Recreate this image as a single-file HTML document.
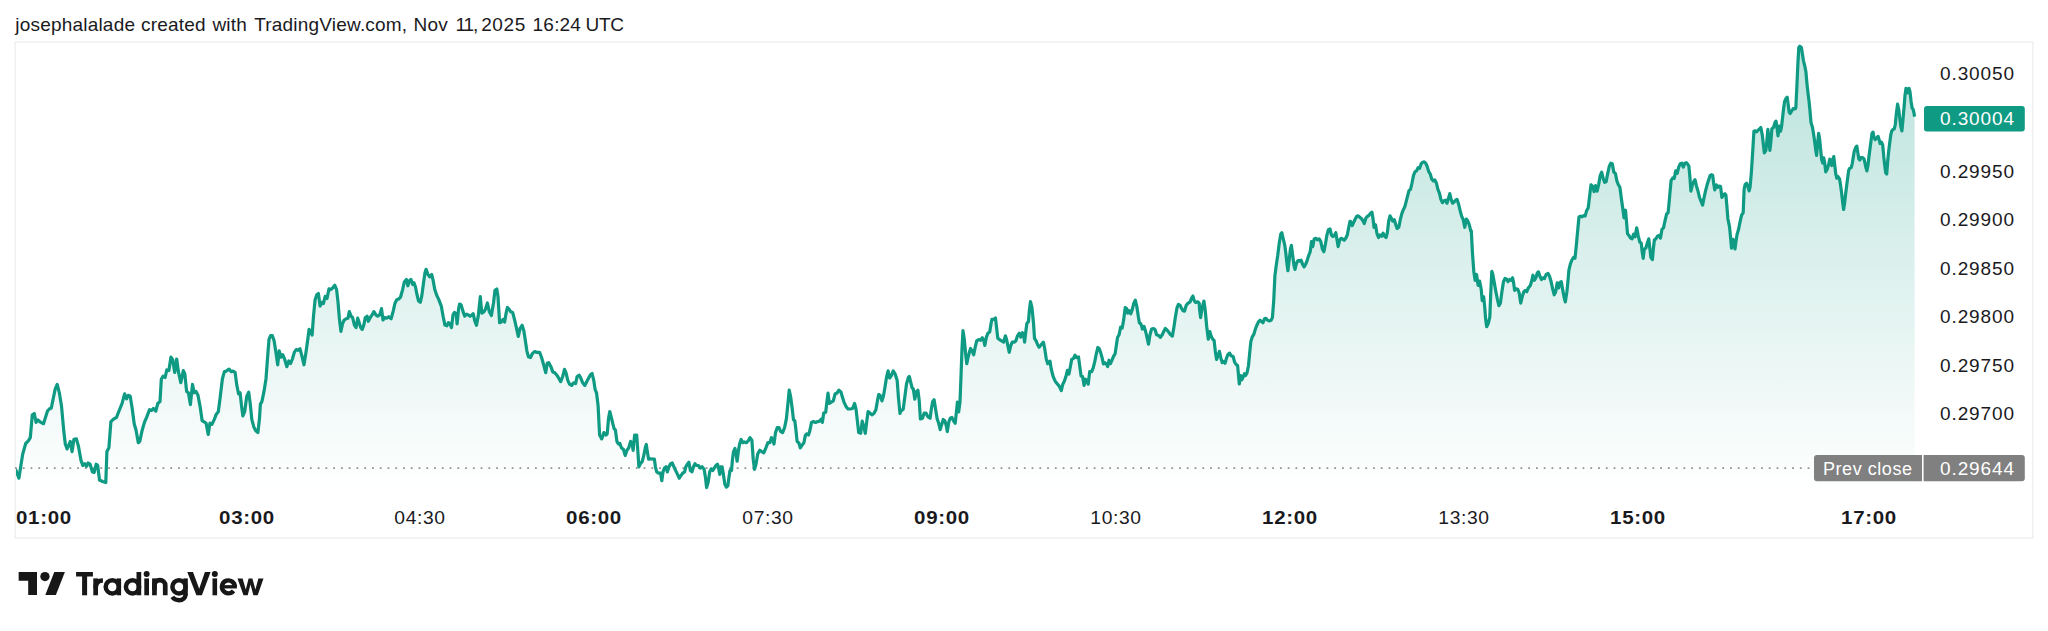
<!DOCTYPE html>
<html>
<head>
<meta charset="utf-8">
<title>Chart</title>
<style>
html,body{margin:0;padding:0;background:#fff;}
body{width:2048px;height:631px;position:relative;overflow:hidden;font-family:"Liberation Sans",sans-serif;color:#1a1a1e;}
#hdr{position:absolute;left:0;top:14px;height:22px;font-size:19px;line-height:22px;white-space:nowrap;color:#1a1a1e;letter-spacing:0.2px;}
#hdr span{position:absolute;top:0;white-space:nowrap;}
#chart{position:absolute;left:0;top:0;width:2048px;height:631px;}
.pl{position:absolute;left:1940px;font-size:19px;line-height:22px;white-space:nowrap;letter-spacing:0.9px;color:#1a1a1e;}
.tl{position:absolute;top:507px;font-size:18px;line-height:22px;white-space:nowrap;width:100px;margin-left:-50px;text-align:center;letter-spacing:0.6px;color:#1a1a1e;transform:scaleX(1.07);transform-origin:50% 50%;}
.tl.b{font-weight:bold;transform:scaleX(1.14);}
.bt{position:absolute;color:#fff;white-space:nowrap;line-height:22px;}
</style>
</head>
<body>
<div id="hdr"><span style="left:15.3px">josephalalade</span><span style="left:141px">created</span><span style="left:212.4px">with</span><span style="left:254.2px">TradingView.com,</span><span style="left:413.5px">Nov</span><span style="left:455.4px;letter-spacing:-1.1px">11,</span><span style="left:481.2px;letter-spacing:0.6px">2025</span><span style="left:532.6px">16:24</span><span style="left:585.6px;letter-spacing:-0.3px">UTC</span></div>
<svg id="chart" width="2048" height="631" viewBox="0 0 2048 631">
<defs>
<linearGradient id="g" x1="0" y1="45" x2="0" y2="492" gradientUnits="userSpaceOnUse">
<stop offset="0" stop-color="#089981" stop-opacity="0.28"/>
<stop offset="1" stop-color="#089981" stop-opacity="0"/>
</linearGradient>
<clipPath id="pane"><rect x="15.9" y="42" width="2016" height="496"/></clipPath>
</defs>
<rect x="15.2" y="41.9" width="2017.6" height="496.1" fill="none" stroke="#f0f0f0" stroke-width="1.6"/>
<!--AREA--><path d="M15.6 469.3 L18.9 478.2 L22.7 454.1 L25.7 443.5 L28.3 440.9 L30.3 437.6 L32.3 414.8 L34.3 413.5 L36.1 422.4 L37.9 419.9 L40.9 422.4 L43.5 423.7 L47.5 411 L49.3 409 L51.3 408 L55.1 389.4 L57.2 384.4 L59.4 393.2 L61.5 405.9 L63.8 431.3 L65.3 444 L67.1 449 L70.3 441.4 L72.1 451.6 L73.9 439.4 L76.4 438.9 L78.5 446.5 L81 460.4 L82.8 465.5 L84.8 463.7 L86.6 466.3 L88.1 463 L90.1 464.2 L92.4 471.9 L94.2 472.4 L96.2 464.2 L97.7 465.5 L99.5 480 L102.6 481.5 L105.8 482.5 L106.9 451.6 L108.9 447.8 L110.9 421.6 L113.5 419.1 L116.5 417.3 L119 411 L122.1 403.4 L124.6 393.8 L126.6 398.8 L128.2 395.3 L130.2 396.3 L132.2 408.5 L134.2 423.7 L136 430 L138.3 442.7 L139.8 441.4 L141.9 431.3 L144.4 422.4 L146.9 416.6 L149.5 409.7 L151.5 410.5 L153.3 408.5 L155.8 411 L157.8 403.4 L160 401.6 L161.3 379.3 L163 376.2 L165.1 377.5 L166.8 369.9 L168.9 370.6 L170.9 357.2 L172.7 359.7 L174.7 372.4 L176.7 359 L178.3 371.1 L180.8 382.6 L183.3 370.6 L184.8 373.7 L186.6 391.4 L188.4 392.7 L190.4 404.6 L192.5 384.3 L194.2 392.7 L196 391.4 L198 395.2 L200.1 406.6 L202.1 420.6 L204.1 421.9 L206.1 423.1 L208.2 434.5 L210 423.1 L212 424.4 L214.3 419.3 L216.3 414.2 L218.3 411.7 L220.3 396.5 L222.4 378.7 L224.4 371.6 L226.4 371.1 L229 369.1 L231 371.6 L233 371.1 L235.1 372.4 L236.8 385.1 L238.6 394 L240.1 392.7 L241.6 406.6 L242.9 416 L244.7 411.7 L246.7 396.5 L248.7 392.2 L250.3 404.1 L251.8 419.3 L253.8 426.9 L255.8 430.7 L257.9 432.5 L259.4 419.3 L260.4 404.1 L261.9 401.6 L264 391.4 L266 378.7 L267.5 358.5 L269 339.4 L270.6 335.6 L272.3 335.6 L274.1 340.7 L276.1 353.4 L277.7 364.8 L279.2 350.9 L281 357.2 L282.7 354.7 L284.8 359.7 L286.8 366.6 L288.8 361 L290.6 363.5 L292.4 359 L294.4 352.1 L296.2 349.6 L298.2 350.3 L300 348.8 L302 356.4 L304 364.8 L305.8 353.4 L307.6 340.7 L309.1 329.3 L310.6 331.8 L312.1 335.1 L313.5 316.2 L315.1 299.7 L316.8 294.7 L318.4 293.4 L320.1 306.1 L321.9 302.3 L323.4 303.5 L325.2 296.4 L327 298.5 L329 288.8 L330.8 289.6 L332.8 287.8 L334.8 285.3 L336.6 289.6 L337.9 301 L339.4 318.7 L340.9 331.4 L342.5 323.8 L344.2 320 L346.3 318.7 L348 318.2 L349.3 311.6 L351.1 316.2 L352.6 317.5 L354.4 325.1 L356.1 327.6 L357.7 318.2 L359.2 322.6 L360.7 327.6 L362.2 329.4 L363.8 325.1 L365.3 317.5 L367.1 316.2 L368.3 321.3 L370.3 317.5 L372.1 314.9 L373.9 311.6 L375.9 314.9 L377.7 316.2 L379.7 314.9 L381.5 308.6 L383 320 L384.8 317.5 L386.6 318.2 L388.6 316.7 L391.1 318.7 L393.2 311.1 L394.9 303.5 L396.7 299.7 L398.7 299 L400.5 297.2 L402.6 289.6 L404.3 282 L406.4 279.4 L407.9 285.8 L409.4 280.7 L410.9 279.4 L412.7 284.5 L414 282.7 L415.5 287.1 L417 294.7 L418.5 301 L420.3 302.3 L421.8 295.9 L423.3 284.5 L424.9 273.1 L426.1 269.3 L427.9 274.4 L429.7 276.9 L431.7 274.4 L433.2 280.7 L434.8 289.6 L436.8 295.4 L438.8 299.7 L441.3 306.1 L443.1 316.2 L444.9 325.1 L446.9 325.8 L448.4 322.6 L450 323.8 L451.5 327.6 L453 314.9 L454.5 312.4 L456.1 313.7 L457.1 323.8 L458.6 308.6 L459.6 304 L461.1 304.8 L462.9 311.1 L464.7 316.2 L466.7 314.2 L468.5 314.9 L470 316.2 L471.4 315.6 L473.2 313.6 L474.7 320.7 L476.5 325.3 L478.3 315.6 L480.3 296.6 L481.8 313.1 L483.8 311.8 L485.4 309.3 L487.4 303 L489.4 311.8 L491.4 315.6 L493.5 303 L495 290.3 L496.8 289 L498 296.6 L499.6 322.7 L501.3 322 L503.1 319.4 L504.6 322 L506.1 313.1 L507.4 307.5 L509.2 309.3 L510.7 311.8 L512.7 312.6 L514.8 320.7 L516.8 329.6 L518.3 336.4 L520.1 328.3 L522.1 325.3 L523.9 330.9 L525.4 341 L526.9 351.1 L528.5 356.7 L530.5 357.5 L532.3 353.7 L534.5 351.6 L537.1 352.4 L539.6 352.4 L541.6 357.5 L543.7 365.1 L545.7 372.7 L547.2 363.3 L548.7 362.6 L550.8 366.4 L552.8 371.9 L554.8 372.7 L556.9 375.2 L558.9 378.5 L560.7 381.6 L562.7 376.5 L564.5 369.4 L566 372.7 L567.8 380.3 L569.5 384.1 L571.6 385.4 L573.6 382.8 L575.6 383.6 L577.1 376.5 L579.2 375.2 L580.7 377.8 L582.7 382.8 L584.8 385.4 L586.8 381.6 L588.8 377.8 L590.6 374.5 L592.1 373.5 L593.8 380.6 L595.1 389.4 L596.6 393.2 L598.1 405.9 L599.6 435.1 L601.7 438.9 L603.9 432.6 L606 435.1 L607.2 433.8 L608.5 418.6 L609.8 411.5 L611.3 417.3 L612.8 423.7 L614.1 428.7 L615.4 430 L616.9 441.4 L618.4 444 L619.9 443.5 L621.4 447.8 L623.5 449.5 L625.2 455.4 L627 450.3 L628.8 447.8 L630.6 441.4 L632.1 443.5 L633.1 450.3 L634.6 435.1 L636.7 435.1 L637.7 449 L638.9 466.8 L640.7 463 L642.2 461.7 L643.8 455.4 L645.3 447.8 L646.3 444.5 L647.3 451.6 L648.6 459.2 L650.9 458.7 L652.9 459.2 L654.4 459.2 L655.4 466.8 L656.7 471.9 L658.5 473.1 L660.5 473.1 L661.8 480.7 L663 471.9 L664.5 468.1 L666.1 466.8 L667.3 471.9 L669.1 466.8 L670.6 463.7 L672.2 463 L673.7 466.3 L675.7 470.6 L677.5 474.4 L679.3 478.2 L680.8 475.7 L682.8 473.1 L684.6 471.9 L685.8 466.8 L687.4 464.2 L688.9 462.2 L690.4 470.6 L691.9 471.9 L693.5 466.8 L695 463.7 L696.5 465.5 L698.5 465.5 L700.3 468.1 L702.1 466.8 L704.1 469.3 L705.4 476.9 L706.6 487.6 L708.2 482 L709.7 471.9 L711.2 468.8 L712.7 470.6 L714.2 468.1 L716 465.5 L717.5 464.2 L718.8 469.3 L719.8 474.4 L720.8 466.8 L722.1 466.8 L723.4 474.4 L724.9 484.5 L726.4 487.1 L727.9 485.8 L729 476.9 L730 470.6 L731.5 470.6 L732.5 459.2 L733.5 451.6 L735 448.5 L736.1 454.1 L737.1 461.2 L738.3 451.6 L739.6 444 L741.1 439.4 L742.6 442.7 L744.2 441.9 L746.2 442.7 L748.2 440.9 L750 437.6 L751.9 440.2 L753.2 459.2 L754.5 469.3 L756 464.2 L757.7 454.1 L759.8 450.3 L761.8 451.6 L763.8 452.8 L765.9 447.8 L767.9 442.7 L769.9 442.7 L771.4 437.6 L773 440.2 L774 444 L775.5 432.6 L777.3 427.5 L779 427.5 L780.6 431.3 L782.6 432.6 L784.6 427.5 L786.4 418.6 L787.7 405.9 L789.2 390.2 L790.7 397.1 L792.2 408.5 L793.5 419.9 L794.8 420.6 L795.8 428.7 L797.1 441.4 L798.8 442.7 L800.3 447.8 L802.1 445.2 L803.9 442.7 L805.4 435.1 L806.9 433.8 L808.5 435.1 L810 430 L811.5 422.4 L813.5 421.6 L815.6 422.4 L817.6 421.6 L819.6 421.1 L821.1 419.1 L822.4 422.4 L823.7 413 L825.7 412.3 L826.7 403.4 L828 393.2 L829.3 403.4 L831.3 402.1 L833.3 400.9 L835.1 393.8 L836.9 393.2 L838.9 390.2 L840.9 392 L842.4 397.1 L844 402.1 L846 406.4 L848 409 L850.3 409 L852.6 408.5 L854.6 403.4 L856.1 409.7 L857.4 421.1 L858.7 432.6 L860.7 433.3 L862.2 421.1 L863.7 426.2 L865.3 433.3 L866.8 421.1 L868.1 411.5 L869.8 413 L871.9 414.8 L873.9 413.5 L875.9 409.7 L877.4 400.9 L878.7 394.5 L880.2 395.3 L882 400.9 L883.5 395.8 L885 386.9 L886.6 376.8 L888.1 370.9 L889.6 378 L891.4 375.5 L893.2 370.9 L895.2 374.2 L897.2 380.6 L898.5 398.3 L900 413.5 L900.3 411.9 L901.4 410.6 L903.2 409.3 L904.7 397.9 L906.5 384 L908.3 377.6 L909.3 376.4 L910.8 382.7 L912.1 387.8 L913.3 389 L914.8 399.2 L916.4 391.6 L917.9 390.3 L919.2 400.4 L920.4 419 L922.5 418.2 L924.2 413.1 L926 413.1 L928 416.9 L930.1 418.2 L931.3 409.3 L932.6 401.7 L934.1 399.7 L935.6 409.3 L937.2 419 L938.7 423.3 L940.2 429.6 L941.7 424.5 L943.2 419.5 L944.8 420.7 L946.3 425.8 L947.3 431.6 L948.8 422 L950.3 418.2 L951.9 417.4 L953.4 420.7 L955.2 423.3 L956.4 411.9 L957.4 402.2 L958.7 411.9 L960 401.7 L961 376.4 L962 348.5 L963 330.7 L964.3 339.6 L965.6 353.5 L966.8 363.7 L968.1 357.3 L969.4 352.3 L970.6 348.5 L972.2 351 L973.7 354.8 L975.2 347.2 L976.7 340.9 L978.7 339.6 L980.5 340.3 L982.3 337.8 L983.8 340.9 L984.8 345.4 L986.4 337.1 L987.9 333.2 L989.7 332 L990.9 324.4 L991.9 319.3 L994 319.3 L995.5 318 L996.5 326.9 L997.8 338.3 L999.5 339.6 L1001.6 340.9 L1003.6 342.1 L1005.4 335.8 L1006.6 339.6 L1007.9 345.9 L1009.2 352.3 L1010.7 345.9 L1012.2 342.1 L1014.2 342.1 L1015.8 340.9 L1017.5 335.8 L1019.3 333.2 L1020.8 337.1 L1022.4 332.7 L1023.6 334.5 L1024.6 342.1 L1025.9 330.7 L1026.9 323.1 L1028.4 321.8 L1029.5 309.2 L1030.5 301.6 L1032 307.9 L1033.5 323.1 L1034.5 338.3 L1036.1 340.9 L1037.6 344.7 L1039.1 347.2 L1041.1 344.7 L1043.4 342.1 L1044.7 348.5 L1046.2 358.6 L1047.7 363.7 L1050 361.1 L1051.2 369 L1053.2 376.6 L1055.2 381.2 L1057.2 383.7 L1059.3 386.3 L1061.3 390.6 L1062.8 384.2 L1064.3 381.2 L1065.9 376.6 L1067.4 370.3 L1068.9 374.1 L1070.4 366.5 L1071.7 359.4 L1073.5 358.4 L1075 355.1 L1076.5 357.6 L1078.5 356.9 L1079.8 366.5 L1081.1 376.1 L1082.6 376.6 L1084.1 385.5 L1085.6 379.2 L1086.9 380.4 L1088.2 384.2 L1089.7 371.6 L1091.7 371.6 L1093.2 367.8 L1094.8 361.4 L1096.3 353.8 L1097.8 347.5 L1099.3 348.7 L1100.9 353.3 L1102.4 358.9 L1103.4 364 L1104.9 362.7 L1106.4 364 L1107.7 366.5 L1109 360.2 L1110.5 363.5 L1112 360.2 L1113.5 356.4 L1115.1 353.8 L1116.6 343.7 L1117.6 337.3 L1119.1 334.8 L1120.6 327.2 L1122.2 328 L1123.7 319.6 L1125.2 307.7 L1126.7 308.7 L1127.7 313.2 L1129.3 310.7 L1130.8 313.8 L1132.3 309.4 L1133.8 303.1 L1135.3 300.1 L1136.9 306.9 L1138.4 317.1 L1139.4 322.9 L1140.9 323.9 L1142.4 329 L1144 326.4 L1145.5 331 L1147 337.3 L1148.5 344.2 L1150 334.8 L1151.6 329 L1153.6 328.5 L1155.1 329.7 L1156.6 334.8 L1158.7 335.6 L1160.4 337.3 L1162.2 334.8 L1163.7 331.5 L1165.3 328.5 L1166.8 329.7 L1168.8 332.3 L1170.6 334.8 L1172.4 336.1 L1173.9 327.2 L1175.4 317.1 L1176.9 308.2 L1178.4 304.4 L1180 305.1 L1181.5 308.2 L1183 310.7 L1184.5 311.2 L1186.1 305.6 L1188.1 303.1 L1190.1 301.8 L1191.6 298 L1192.9 296 L1194.2 300.6 L1195.7 302.6 L1197.7 301.8 L1199.2 303.1 L1199.5 308.7 L1200.6 317.6 L1202.2 307.5 L1203.9 301.1 L1205.2 310 L1206.7 326.5 L1208.3 339.2 L1209.8 331.6 L1211.3 336.6 L1212.8 339.2 L1214.1 340.4 L1215.4 351.9 L1216.6 359.5 L1218.1 355.7 L1219.4 351.3 L1220.9 358.2 L1222.2 362.5 L1223.7 361.5 L1225 363.3 L1226.5 358.2 L1228 354.4 L1229.6 353.1 L1231.1 355.7 L1233.1 356.4 L1234.6 362 L1236.1 364.5 L1237.6 365.3 L1239.3 384 L1240.6 375.5 L1241.8 379.8 L1243 377.3 L1244.5 373.7 L1245.6 375.5 L1247 373 L1248.5 365.5 L1249.8 351.9 L1250.9 341.2 L1252.4 336.6 L1253.9 334.1 L1255.4 329 L1256.9 325.2 L1258.5 321.9 L1260 320.2 L1261.5 321.4 L1263 322.7 L1264.5 318.9 L1266.1 318.4 L1267.6 320.2 L1269.6 320.9 L1271.1 320.2 L1272.4 317.6 L1273.7 301.1 L1274.9 275.8 L1276.2 265.6 L1277.7 255.5 L1279.3 242.8 L1280.8 233.9 L1281.8 232.7 L1283.3 239 L1284.8 245.4 L1285.8 253 L1286.9 263.1 L1287.9 270.7 L1289.4 258 L1290.4 249.2 L1291.4 245.4 L1292.7 255.5 L1294 265.6 L1295 269.4 L1296.5 263.1 L1298 260.6 L1299.5 261.1 L1301.1 260.1 L1302.6 264.4 L1304.1 266.9 L1305.6 264.4 L1307.1 260.6 L1308.7 255.5 L1310.2 251.7 L1311.5 241.6 L1312.7 246.6 L1314.2 239 L1316 238.3 L1317.5 239.8 L1319.3 239 L1320.8 241.6 L1322.4 249.2 L1323.9 251.7 L1325.4 244.1 L1326.9 235.2 L1328.4 229.6 L1330 228.9 L1331.5 235.2 L1333 236.5 L1334.5 235.2 L1335.8 232.7 L1337.1 240.3 L1338.1 246.6 L1339.6 240.3 L1341.1 238.3 L1342.6 239 L1344.2 240.3 L1345.7 238.3 L1347.2 235.2 L1348.7 227.6 L1350 221.3 L1350.6 221.5 L1352.2 225.6 L1353.7 222.3 L1355.2 219 L1356.7 216.4 L1358.3 215.9 L1359.8 217.2 L1361.3 218.5 L1362.8 220.5 L1364.3 223.5 L1365.9 218 L1367.4 216.4 L1368.9 215.4 L1370.4 213.4 L1371.9 212.1 L1373 218.5 L1374 227.3 L1375.5 224.8 L1377 233.7 L1378.5 237.5 L1380.1 234.9 L1381.6 236.2 L1383.1 233.2 L1384.6 236.2 L1386.1 237.5 L1387.4 232.4 L1388.7 221 L1390 215.9 L1391.5 218.5 L1392.7 221 L1394.3 219.7 L1395.8 224.8 L1397.1 228.6 L1398.8 227.3 L1400.3 219.7 L1401.9 213.4 L1403.4 209.6 L1404.9 206.3 L1406.4 200.7 L1408 194.4 L1409 190.6 L1410.5 189.3 L1412 183 L1413.5 175.4 L1415.1 171.6 L1416.6 170.8 L1418.1 167.7 L1419.6 168.3 L1421.1 163.9 L1422.7 162.2 L1424.2 161.9 L1425.7 163.2 L1427.2 166.5 L1428.7 171.6 L1430.3 174.1 L1431.8 179.2 L1433.3 180.9 L1434.8 179.9 L1436.4 183 L1437.9 189.3 L1439.4 193.1 L1440.9 199.4 L1442.4 202.7 L1444 200.7 L1445.5 200.2 L1447 203.2 L1448.5 198.2 L1449.8 193.6 L1451.1 199.4 L1452.6 203.2 L1454.1 202 L1455.6 200.2 L1457.1 199.4 L1458.7 204.5 L1460.2 210.9 L1461.7 216.4 L1463.2 219.7 L1464.8 227.3 L1466.3 219 L1467.8 221 L1469.3 224.8 L1470.8 231.1 L1471.3 230.9 L1472.5 253.7 L1473.8 271.4 L1475.1 280.3 L1476.6 274.5 L1478.1 285.4 L1479.6 281.1 L1481.2 289.2 L1482.2 300.6 L1483.7 296.8 L1484.7 306.9 L1485.7 319.6 L1486.7 326.7 L1488.3 323.4 L1489.8 317.1 L1490.8 291.7 L1491.8 271.4 L1492.8 274 L1494.3 282.8 L1495.9 291.7 L1497.4 299.3 L1498.9 305.7 L1500.4 303.1 L1501.9 291.7 L1503.5 281.6 L1505 278.5 L1506.5 279 L1508 281.6 L1509.6 279.5 L1511.1 280.3 L1512.6 277.8 L1513.6 282.8 L1514.6 290.4 L1516.1 288.7 L1517.7 289.2 L1519.2 293 L1520.7 303.1 L1522.2 296.8 L1523.8 291.7 L1525.3 290.4 L1526.8 291.7 L1528.3 287.9 L1530.3 285.4 L1531.9 280.3 L1532.9 275.2 L1534.4 280.3 L1535.9 277.8 L1537.4 272.7 L1538.5 271.9 L1540 276.5 L1541.5 279.5 L1543 277.8 L1544.5 278.5 L1546.1 274.5 L1548.1 273.5 L1549.6 276.5 L1551.1 281.6 L1552.7 289.2 L1554.2 294.8 L1555.7 291.7 L1557.2 282.8 L1558.7 287.9 L1560.3 282.1 L1561.3 281.6 L1562.8 290.4 L1564.3 298.1 L1565.3 301.9 L1566.9 291.7 L1567.9 281.6 L1568.9 270.2 L1570.4 263.8 L1571.9 260 L1573.5 257.5 L1575 258.2 L1576.5 243.5 L1578 227.1 L1579 216.9 L1580.6 216.1 L1582.1 216.9 L1583.6 215.6 L1585.1 216.1 L1586.6 210.6 L1588.2 208 L1589.7 195.4 L1591 184.8 L1592.5 186.1 L1594.1 191.6 L1595.6 185.6 L1597.1 191.1 L1598.6 184.8 L1600.1 175.9 L1601.7 172.1 L1603.2 178.5 L1604.7 182.3 L1606.2 181.5 L1607.7 173.4 L1609.3 166.3 L1610.8 163.2 L1612.3 163.8 L1613.8 172.1 L1615.4 173.4 L1616.9 181 L1618.4 184.8 L1619.9 187.3 L1621.4 198.7 L1623 210.2 L1624 217.8 L1625.5 210.2 L1626.5 221.6 L1627.5 233.7 L1629 235.5 L1630.6 238.1 L1632.1 238.8 L1633.6 234.2 L1635.1 236.8 L1636.7 227.9 L1638.2 235.5 L1639.7 241.9 L1641.2 243.1 L1642.2 252 L1643.2 258.3 L1644.3 249 L1645.8 248.2 L1647.3 243.1 L1648.8 238.8 L1649.8 248.2 L1650.9 257.6 L1652.4 259.6 L1653.4 248.2 L1654.4 239.8 L1655.9 238.8 L1657.4 236.3 L1659 235.5 L1660.5 238.1 L1662 229.2 L1663.5 227.9 L1665.1 220.3 L1666.6 214 L1668.1 212.7 L1669.1 202.6 L1670.1 191.1 L1671.1 180.5 L1672.7 178 L1674.2 178.5 L1675.7 170.9 L1677.2 173.4 L1678.7 167.1 L1680.3 163.8 L1681.8 163.2 L1683.3 167.1 L1684.8 163.2 L1686.4 162.7 L1687.9 164.5 L1688.9 166.3 L1689.9 177.2 L1690.9 191.1 L1692.4 184.8 L1694 181 L1695 179.7 L1696.5 186.1 L1698 191.1 L1699.5 197.5 L1701.1 201.3 L1702.6 205.1 L1704.1 197.5 L1705.6 190.6 L1707.1 184.8 L1708.7 179.7 L1710.2 175.4 L1711.7 174.7 L1712.7 175.4 L1713.7 183.5 L1714.8 189.9 L1716.3 184.8 L1717.8 187.3 L1719.3 186.1 L1720.6 186.6 L1721.9 197.5 L1723.4 194.9 L1724.9 193.7 L1725.9 194.9 L1726.9 206.4 L1727.9 219 L1729.5 226.6 L1730.5 236.8 L1731.5 248.2 L1733 239.3 L1734 241.9 L1735 249 L1736.1 240.6 L1737.1 234.2 L1738.6 229.2 L1740.1 221.6 L1741.6 215.2 L1743.2 212.7 L1744.1 189.6 L1745.1 184.5 L1746.6 183.3 L1748.1 187.1 L1749.1 190.9 L1750.1 187.1 L1751.4 171.9 L1752.7 151.6 L1753.9 131.3 L1755.2 130.8 L1756.7 131.8 L1758.3 130 L1759.8 128.7 L1760.8 127.5 L1762.3 135.1 L1763.3 144 L1764.3 152.8 L1765.9 150.3 L1766.9 140.2 L1767.9 129.3 L1768.9 140.2 L1769.9 150.3 L1770.9 141.4 L1771.9 128.7 L1773.5 127.5 L1775 122.4 L1776 121.1 L1777 127.5 L1778 135.8 L1779.3 126.2 L1780.6 131.3 L1781.6 126.2 L1782.6 117.3 L1783.6 108.5 L1784.6 101.4 L1786.1 98.3 L1787.2 97.1 L1788.2 104.7 L1789.2 112.3 L1790.2 113.5 L1791.7 111 L1793.2 108.5 L1794.8 109 L1795.8 108 L1796.8 88.2 L1797.8 65.4 L1798.8 47.6 L1799.8 46.3 L1801.4 47.6 L1802.4 53.9 L1803.4 60.3 L1804.9 66.6 L1805.9 71.7 L1806.9 83.1 L1808 93.2 L1809 100.9 L1810 111 L1811 122.4 L1812.5 127.5 L1813.5 133.8 L1814.5 140.2 L1815.6 149 L1816.6 155.4 L1817.6 144 L1818.6 133.3 L1819.6 138.9 L1820.6 149 L1821.6 159.2 L1822.7 163 L1823.7 157.9 L1824.7 163 L1825.7 171.9 L1827.2 169.3 L1828.7 164.2 L1829.8 159.2 L1830.8 161.7 L1831.8 165.5 L1832.8 159.2 L1833.8 156.6 L1834.8 165.5 L1835.8 174.4 L1836.9 178.2 L1838 176.5 L1839.6 179 L1840.6 185.4 L1841.6 193 L1842.6 201.9 L1843.6 209.5 L1844.6 203.1 L1845.6 194.2 L1847.2 181.6 L1848.7 170.2 L1849.7 168.4 L1851.2 167.6 L1852.2 163.8 L1853.2 157.5 L1854.3 151.1 L1855.8 147.3 L1856.8 146.1 L1857.8 152.4 L1858.8 158.7 L1859.8 160 L1860.9 157.5 L1862.4 157.5 L1863.9 158.7 L1864.9 162.6 L1865.9 167.6 L1866.9 170.9 L1868 165.1 L1869 156.2 L1870 148.6 L1871 141 L1872 133.4 L1873 132.1 L1874 137.2 L1875.1 139.7 L1876.6 138 L1878.1 136.4 L1879.1 139.7 L1880.1 143.5 L1881.6 142.3 L1882.7 144.8 L1883.7 156.2 L1884.7 165.1 L1885.7 172.7 L1886.7 174 L1887.7 161.3 L1888.7 151.1 L1889.8 142.3 L1890.8 134.7 L1891.8 130.9 L1892.8 129.6 L1894.3 128.8 L1895.3 124.5 L1896.4 113.1 L1897.6 104.2 L1898.9 110.6 L1899.9 119.4 L1900.9 127.1 L1901.9 130.9 L1902.9 120.7 L1904 108 L1905 95.4 L1906 88.3 L1907 90.3 L1908 92.8 L1909 88.3 L1910 91.6 L1911.1 101.7 L1912.1 108 L1913.1 109.3 L1913.9 112.6 L1914.6 116.6 L1914.6 497 L15.6 497 Z" fill="url(#g)" stroke="none"/><!--/AREA-->
<line x1="15.05" y1="468.1" x2="1812" y2="468.1" stroke="#929292" stroke-width="1.7" stroke-dasharray="1.8 5.96" />
<!--LINE--><path clip-path="url(#pane)" d="M15.6 469.3 L18.9 478.2 L22.7 454.1 L25.7 443.5 L28.3 440.9 L30.3 437.6 L32.3 414.8 L34.3 413.5 L36.1 422.4 L37.9 419.9 L40.9 422.4 L43.5 423.7 L47.5 411 L49.3 409 L51.3 408 L55.1 389.4 L57.2 384.4 L59.4 393.2 L61.5 405.9 L63.8 431.3 L65.3 444 L67.1 449 L70.3 441.4 L72.1 451.6 L73.9 439.4 L76.4 438.9 L78.5 446.5 L81 460.4 L82.8 465.5 L84.8 463.7 L86.6 466.3 L88.1 463 L90.1 464.2 L92.4 471.9 L94.2 472.4 L96.2 464.2 L97.7 465.5 L99.5 480 L102.6 481.5 L105.8 482.5 L106.9 451.6 L108.9 447.8 L110.9 421.6 L113.5 419.1 L116.5 417.3 L119 411 L122.1 403.4 L124.6 393.8 L126.6 398.8 L128.2 395.3 L130.2 396.3 L132.2 408.5 L134.2 423.7 L136 430 L138.3 442.7 L139.8 441.4 L141.9 431.3 L144.4 422.4 L146.9 416.6 L149.5 409.7 L151.5 410.5 L153.3 408.5 L155.8 411 L157.8 403.4 L160 401.6 L161.3 379.3 L163 376.2 L165.1 377.5 L166.8 369.9 L168.9 370.6 L170.9 357.2 L172.7 359.7 L174.7 372.4 L176.7 359 L178.3 371.1 L180.8 382.6 L183.3 370.6 L184.8 373.7 L186.6 391.4 L188.4 392.7 L190.4 404.6 L192.5 384.3 L194.2 392.7 L196 391.4 L198 395.2 L200.1 406.6 L202.1 420.6 L204.1 421.9 L206.1 423.1 L208.2 434.5 L210 423.1 L212 424.4 L214.3 419.3 L216.3 414.2 L218.3 411.7 L220.3 396.5 L222.4 378.7 L224.4 371.6 L226.4 371.1 L229 369.1 L231 371.6 L233 371.1 L235.1 372.4 L236.8 385.1 L238.6 394 L240.1 392.7 L241.6 406.6 L242.9 416 L244.7 411.7 L246.7 396.5 L248.7 392.2 L250.3 404.1 L251.8 419.3 L253.8 426.9 L255.8 430.7 L257.9 432.5 L259.4 419.3 L260.4 404.1 L261.9 401.6 L264 391.4 L266 378.7 L267.5 358.5 L269 339.4 L270.6 335.6 L272.3 335.6 L274.1 340.7 L276.1 353.4 L277.7 364.8 L279.2 350.9 L281 357.2 L282.7 354.7 L284.8 359.7 L286.8 366.6 L288.8 361 L290.6 363.5 L292.4 359 L294.4 352.1 L296.2 349.6 L298.2 350.3 L300 348.8 L302 356.4 L304 364.8 L305.8 353.4 L307.6 340.7 L309.1 329.3 L310.6 331.8 L312.1 335.1 L313.5 316.2 L315.1 299.7 L316.8 294.7 L318.4 293.4 L320.1 306.1 L321.9 302.3 L323.4 303.5 L325.2 296.4 L327 298.5 L329 288.8 L330.8 289.6 L332.8 287.8 L334.8 285.3 L336.6 289.6 L337.9 301 L339.4 318.7 L340.9 331.4 L342.5 323.8 L344.2 320 L346.3 318.7 L348 318.2 L349.3 311.6 L351.1 316.2 L352.6 317.5 L354.4 325.1 L356.1 327.6 L357.7 318.2 L359.2 322.6 L360.7 327.6 L362.2 329.4 L363.8 325.1 L365.3 317.5 L367.1 316.2 L368.3 321.3 L370.3 317.5 L372.1 314.9 L373.9 311.6 L375.9 314.9 L377.7 316.2 L379.7 314.9 L381.5 308.6 L383 320 L384.8 317.5 L386.6 318.2 L388.6 316.7 L391.1 318.7 L393.2 311.1 L394.9 303.5 L396.7 299.7 L398.7 299 L400.5 297.2 L402.6 289.6 L404.3 282 L406.4 279.4 L407.9 285.8 L409.4 280.7 L410.9 279.4 L412.7 284.5 L414 282.7 L415.5 287.1 L417 294.7 L418.5 301 L420.3 302.3 L421.8 295.9 L423.3 284.5 L424.9 273.1 L426.1 269.3 L427.9 274.4 L429.7 276.9 L431.7 274.4 L433.2 280.7 L434.8 289.6 L436.8 295.4 L438.8 299.7 L441.3 306.1 L443.1 316.2 L444.9 325.1 L446.9 325.8 L448.4 322.6 L450 323.8 L451.5 327.6 L453 314.9 L454.5 312.4 L456.1 313.7 L457.1 323.8 L458.6 308.6 L459.6 304 L461.1 304.8 L462.9 311.1 L464.7 316.2 L466.7 314.2 L468.5 314.9 L470 316.2 L471.4 315.6 L473.2 313.6 L474.7 320.7 L476.5 325.3 L478.3 315.6 L480.3 296.6 L481.8 313.1 L483.8 311.8 L485.4 309.3 L487.4 303 L489.4 311.8 L491.4 315.6 L493.5 303 L495 290.3 L496.8 289 L498 296.6 L499.6 322.7 L501.3 322 L503.1 319.4 L504.6 322 L506.1 313.1 L507.4 307.5 L509.2 309.3 L510.7 311.8 L512.7 312.6 L514.8 320.7 L516.8 329.6 L518.3 336.4 L520.1 328.3 L522.1 325.3 L523.9 330.9 L525.4 341 L526.9 351.1 L528.5 356.7 L530.5 357.5 L532.3 353.7 L534.5 351.6 L537.1 352.4 L539.6 352.4 L541.6 357.5 L543.7 365.1 L545.7 372.7 L547.2 363.3 L548.7 362.6 L550.8 366.4 L552.8 371.9 L554.8 372.7 L556.9 375.2 L558.9 378.5 L560.7 381.6 L562.7 376.5 L564.5 369.4 L566 372.7 L567.8 380.3 L569.5 384.1 L571.6 385.4 L573.6 382.8 L575.6 383.6 L577.1 376.5 L579.2 375.2 L580.7 377.8 L582.7 382.8 L584.8 385.4 L586.8 381.6 L588.8 377.8 L590.6 374.5 L592.1 373.5 L593.8 380.6 L595.1 389.4 L596.6 393.2 L598.1 405.9 L599.6 435.1 L601.7 438.9 L603.9 432.6 L606 435.1 L607.2 433.8 L608.5 418.6 L609.8 411.5 L611.3 417.3 L612.8 423.7 L614.1 428.7 L615.4 430 L616.9 441.4 L618.4 444 L619.9 443.5 L621.4 447.8 L623.5 449.5 L625.2 455.4 L627 450.3 L628.8 447.8 L630.6 441.4 L632.1 443.5 L633.1 450.3 L634.6 435.1 L636.7 435.1 L637.7 449 L638.9 466.8 L640.7 463 L642.2 461.7 L643.8 455.4 L645.3 447.8 L646.3 444.5 L647.3 451.6 L648.6 459.2 L650.9 458.7 L652.9 459.2 L654.4 459.2 L655.4 466.8 L656.7 471.9 L658.5 473.1 L660.5 473.1 L661.8 480.7 L663 471.9 L664.5 468.1 L666.1 466.8 L667.3 471.9 L669.1 466.8 L670.6 463.7 L672.2 463 L673.7 466.3 L675.7 470.6 L677.5 474.4 L679.3 478.2 L680.8 475.7 L682.8 473.1 L684.6 471.9 L685.8 466.8 L687.4 464.2 L688.9 462.2 L690.4 470.6 L691.9 471.9 L693.5 466.8 L695 463.7 L696.5 465.5 L698.5 465.5 L700.3 468.1 L702.1 466.8 L704.1 469.3 L705.4 476.9 L706.6 487.6 L708.2 482 L709.7 471.9 L711.2 468.8 L712.7 470.6 L714.2 468.1 L716 465.5 L717.5 464.2 L718.8 469.3 L719.8 474.4 L720.8 466.8 L722.1 466.8 L723.4 474.4 L724.9 484.5 L726.4 487.1 L727.9 485.8 L729 476.9 L730 470.6 L731.5 470.6 L732.5 459.2 L733.5 451.6 L735 448.5 L736.1 454.1 L737.1 461.2 L738.3 451.6 L739.6 444 L741.1 439.4 L742.6 442.7 L744.2 441.9 L746.2 442.7 L748.2 440.9 L750 437.6 L751.9 440.2 L753.2 459.2 L754.5 469.3 L756 464.2 L757.7 454.1 L759.8 450.3 L761.8 451.6 L763.8 452.8 L765.9 447.8 L767.9 442.7 L769.9 442.7 L771.4 437.6 L773 440.2 L774 444 L775.5 432.6 L777.3 427.5 L779 427.5 L780.6 431.3 L782.6 432.6 L784.6 427.5 L786.4 418.6 L787.7 405.9 L789.2 390.2 L790.7 397.1 L792.2 408.5 L793.5 419.9 L794.8 420.6 L795.8 428.7 L797.1 441.4 L798.8 442.7 L800.3 447.8 L802.1 445.2 L803.9 442.7 L805.4 435.1 L806.9 433.8 L808.5 435.1 L810 430 L811.5 422.4 L813.5 421.6 L815.6 422.4 L817.6 421.6 L819.6 421.1 L821.1 419.1 L822.4 422.4 L823.7 413 L825.7 412.3 L826.7 403.4 L828 393.2 L829.3 403.4 L831.3 402.1 L833.3 400.9 L835.1 393.8 L836.9 393.2 L838.9 390.2 L840.9 392 L842.4 397.1 L844 402.1 L846 406.4 L848 409 L850.3 409 L852.6 408.5 L854.6 403.4 L856.1 409.7 L857.4 421.1 L858.7 432.6 L860.7 433.3 L862.2 421.1 L863.7 426.2 L865.3 433.3 L866.8 421.1 L868.1 411.5 L869.8 413 L871.9 414.8 L873.9 413.5 L875.9 409.7 L877.4 400.9 L878.7 394.5 L880.2 395.3 L882 400.9 L883.5 395.8 L885 386.9 L886.6 376.8 L888.1 370.9 L889.6 378 L891.4 375.5 L893.2 370.9 L895.2 374.2 L897.2 380.6 L898.5 398.3 L900 413.5 L900.3 411.9 L901.4 410.6 L903.2 409.3 L904.7 397.9 L906.5 384 L908.3 377.6 L909.3 376.4 L910.8 382.7 L912.1 387.8 L913.3 389 L914.8 399.2 L916.4 391.6 L917.9 390.3 L919.2 400.4 L920.4 419 L922.5 418.2 L924.2 413.1 L926 413.1 L928 416.9 L930.1 418.2 L931.3 409.3 L932.6 401.7 L934.1 399.7 L935.6 409.3 L937.2 419 L938.7 423.3 L940.2 429.6 L941.7 424.5 L943.2 419.5 L944.8 420.7 L946.3 425.8 L947.3 431.6 L948.8 422 L950.3 418.2 L951.9 417.4 L953.4 420.7 L955.2 423.3 L956.4 411.9 L957.4 402.2 L958.7 411.9 L960 401.7 L961 376.4 L962 348.5 L963 330.7 L964.3 339.6 L965.6 353.5 L966.8 363.7 L968.1 357.3 L969.4 352.3 L970.6 348.5 L972.2 351 L973.7 354.8 L975.2 347.2 L976.7 340.9 L978.7 339.6 L980.5 340.3 L982.3 337.8 L983.8 340.9 L984.8 345.4 L986.4 337.1 L987.9 333.2 L989.7 332 L990.9 324.4 L991.9 319.3 L994 319.3 L995.5 318 L996.5 326.9 L997.8 338.3 L999.5 339.6 L1001.6 340.9 L1003.6 342.1 L1005.4 335.8 L1006.6 339.6 L1007.9 345.9 L1009.2 352.3 L1010.7 345.9 L1012.2 342.1 L1014.2 342.1 L1015.8 340.9 L1017.5 335.8 L1019.3 333.2 L1020.8 337.1 L1022.4 332.7 L1023.6 334.5 L1024.6 342.1 L1025.9 330.7 L1026.9 323.1 L1028.4 321.8 L1029.5 309.2 L1030.5 301.6 L1032 307.9 L1033.5 323.1 L1034.5 338.3 L1036.1 340.9 L1037.6 344.7 L1039.1 347.2 L1041.1 344.7 L1043.4 342.1 L1044.7 348.5 L1046.2 358.6 L1047.7 363.7 L1050 361.1 L1051.2 369 L1053.2 376.6 L1055.2 381.2 L1057.2 383.7 L1059.3 386.3 L1061.3 390.6 L1062.8 384.2 L1064.3 381.2 L1065.9 376.6 L1067.4 370.3 L1068.9 374.1 L1070.4 366.5 L1071.7 359.4 L1073.5 358.4 L1075 355.1 L1076.5 357.6 L1078.5 356.9 L1079.8 366.5 L1081.1 376.1 L1082.6 376.6 L1084.1 385.5 L1085.6 379.2 L1086.9 380.4 L1088.2 384.2 L1089.7 371.6 L1091.7 371.6 L1093.2 367.8 L1094.8 361.4 L1096.3 353.8 L1097.8 347.5 L1099.3 348.7 L1100.9 353.3 L1102.4 358.9 L1103.4 364 L1104.9 362.7 L1106.4 364 L1107.7 366.5 L1109 360.2 L1110.5 363.5 L1112 360.2 L1113.5 356.4 L1115.1 353.8 L1116.6 343.7 L1117.6 337.3 L1119.1 334.8 L1120.6 327.2 L1122.2 328 L1123.7 319.6 L1125.2 307.7 L1126.7 308.7 L1127.7 313.2 L1129.3 310.7 L1130.8 313.8 L1132.3 309.4 L1133.8 303.1 L1135.3 300.1 L1136.9 306.9 L1138.4 317.1 L1139.4 322.9 L1140.9 323.9 L1142.4 329 L1144 326.4 L1145.5 331 L1147 337.3 L1148.5 344.2 L1150 334.8 L1151.6 329 L1153.6 328.5 L1155.1 329.7 L1156.6 334.8 L1158.7 335.6 L1160.4 337.3 L1162.2 334.8 L1163.7 331.5 L1165.3 328.5 L1166.8 329.7 L1168.8 332.3 L1170.6 334.8 L1172.4 336.1 L1173.9 327.2 L1175.4 317.1 L1176.9 308.2 L1178.4 304.4 L1180 305.1 L1181.5 308.2 L1183 310.7 L1184.5 311.2 L1186.1 305.6 L1188.1 303.1 L1190.1 301.8 L1191.6 298 L1192.9 296 L1194.2 300.6 L1195.7 302.6 L1197.7 301.8 L1199.2 303.1 L1199.5 308.7 L1200.6 317.6 L1202.2 307.5 L1203.9 301.1 L1205.2 310 L1206.7 326.5 L1208.3 339.2 L1209.8 331.6 L1211.3 336.6 L1212.8 339.2 L1214.1 340.4 L1215.4 351.9 L1216.6 359.5 L1218.1 355.7 L1219.4 351.3 L1220.9 358.2 L1222.2 362.5 L1223.7 361.5 L1225 363.3 L1226.5 358.2 L1228 354.4 L1229.6 353.1 L1231.1 355.7 L1233.1 356.4 L1234.6 362 L1236.1 364.5 L1237.6 365.3 L1239.3 384 L1240.6 375.5 L1241.8 379.8 L1243 377.3 L1244.5 373.7 L1245.6 375.5 L1247 373 L1248.5 365.5 L1249.8 351.9 L1250.9 341.2 L1252.4 336.6 L1253.9 334.1 L1255.4 329 L1256.9 325.2 L1258.5 321.9 L1260 320.2 L1261.5 321.4 L1263 322.7 L1264.5 318.9 L1266.1 318.4 L1267.6 320.2 L1269.6 320.9 L1271.1 320.2 L1272.4 317.6 L1273.7 301.1 L1274.9 275.8 L1276.2 265.6 L1277.7 255.5 L1279.3 242.8 L1280.8 233.9 L1281.8 232.7 L1283.3 239 L1284.8 245.4 L1285.8 253 L1286.9 263.1 L1287.9 270.7 L1289.4 258 L1290.4 249.2 L1291.4 245.4 L1292.7 255.5 L1294 265.6 L1295 269.4 L1296.5 263.1 L1298 260.6 L1299.5 261.1 L1301.1 260.1 L1302.6 264.4 L1304.1 266.9 L1305.6 264.4 L1307.1 260.6 L1308.7 255.5 L1310.2 251.7 L1311.5 241.6 L1312.7 246.6 L1314.2 239 L1316 238.3 L1317.5 239.8 L1319.3 239 L1320.8 241.6 L1322.4 249.2 L1323.9 251.7 L1325.4 244.1 L1326.9 235.2 L1328.4 229.6 L1330 228.9 L1331.5 235.2 L1333 236.5 L1334.5 235.2 L1335.8 232.7 L1337.1 240.3 L1338.1 246.6 L1339.6 240.3 L1341.1 238.3 L1342.6 239 L1344.2 240.3 L1345.7 238.3 L1347.2 235.2 L1348.7 227.6 L1350 221.3 L1350.6 221.5 L1352.2 225.6 L1353.7 222.3 L1355.2 219 L1356.7 216.4 L1358.3 215.9 L1359.8 217.2 L1361.3 218.5 L1362.8 220.5 L1364.3 223.5 L1365.9 218 L1367.4 216.4 L1368.9 215.4 L1370.4 213.4 L1371.9 212.1 L1373 218.5 L1374 227.3 L1375.5 224.8 L1377 233.7 L1378.5 237.5 L1380.1 234.9 L1381.6 236.2 L1383.1 233.2 L1384.6 236.2 L1386.1 237.5 L1387.4 232.4 L1388.7 221 L1390 215.9 L1391.5 218.5 L1392.7 221 L1394.3 219.7 L1395.8 224.8 L1397.1 228.6 L1398.8 227.3 L1400.3 219.7 L1401.9 213.4 L1403.4 209.6 L1404.9 206.3 L1406.4 200.7 L1408 194.4 L1409 190.6 L1410.5 189.3 L1412 183 L1413.5 175.4 L1415.1 171.6 L1416.6 170.8 L1418.1 167.7 L1419.6 168.3 L1421.1 163.9 L1422.7 162.2 L1424.2 161.9 L1425.7 163.2 L1427.2 166.5 L1428.7 171.6 L1430.3 174.1 L1431.8 179.2 L1433.3 180.9 L1434.8 179.9 L1436.4 183 L1437.9 189.3 L1439.4 193.1 L1440.9 199.4 L1442.4 202.7 L1444 200.7 L1445.5 200.2 L1447 203.2 L1448.5 198.2 L1449.8 193.6 L1451.1 199.4 L1452.6 203.2 L1454.1 202 L1455.6 200.2 L1457.1 199.4 L1458.7 204.5 L1460.2 210.9 L1461.7 216.4 L1463.2 219.7 L1464.8 227.3 L1466.3 219 L1467.8 221 L1469.3 224.8 L1470.8 231.1 L1471.3 230.9 L1472.5 253.7 L1473.8 271.4 L1475.1 280.3 L1476.6 274.5 L1478.1 285.4 L1479.6 281.1 L1481.2 289.2 L1482.2 300.6 L1483.7 296.8 L1484.7 306.9 L1485.7 319.6 L1486.7 326.7 L1488.3 323.4 L1489.8 317.1 L1490.8 291.7 L1491.8 271.4 L1492.8 274 L1494.3 282.8 L1495.9 291.7 L1497.4 299.3 L1498.9 305.7 L1500.4 303.1 L1501.9 291.7 L1503.5 281.6 L1505 278.5 L1506.5 279 L1508 281.6 L1509.6 279.5 L1511.1 280.3 L1512.6 277.8 L1513.6 282.8 L1514.6 290.4 L1516.1 288.7 L1517.7 289.2 L1519.2 293 L1520.7 303.1 L1522.2 296.8 L1523.8 291.7 L1525.3 290.4 L1526.8 291.7 L1528.3 287.9 L1530.3 285.4 L1531.9 280.3 L1532.9 275.2 L1534.4 280.3 L1535.9 277.8 L1537.4 272.7 L1538.5 271.9 L1540 276.5 L1541.5 279.5 L1543 277.8 L1544.5 278.5 L1546.1 274.5 L1548.1 273.5 L1549.6 276.5 L1551.1 281.6 L1552.7 289.2 L1554.2 294.8 L1555.7 291.7 L1557.2 282.8 L1558.7 287.9 L1560.3 282.1 L1561.3 281.6 L1562.8 290.4 L1564.3 298.1 L1565.3 301.9 L1566.9 291.7 L1567.9 281.6 L1568.9 270.2 L1570.4 263.8 L1571.9 260 L1573.5 257.5 L1575 258.2 L1576.5 243.5 L1578 227.1 L1579 216.9 L1580.6 216.1 L1582.1 216.9 L1583.6 215.6 L1585.1 216.1 L1586.6 210.6 L1588.2 208 L1589.7 195.4 L1591 184.8 L1592.5 186.1 L1594.1 191.6 L1595.6 185.6 L1597.1 191.1 L1598.6 184.8 L1600.1 175.9 L1601.7 172.1 L1603.2 178.5 L1604.7 182.3 L1606.2 181.5 L1607.7 173.4 L1609.3 166.3 L1610.8 163.2 L1612.3 163.8 L1613.8 172.1 L1615.4 173.4 L1616.9 181 L1618.4 184.8 L1619.9 187.3 L1621.4 198.7 L1623 210.2 L1624 217.8 L1625.5 210.2 L1626.5 221.6 L1627.5 233.7 L1629 235.5 L1630.6 238.1 L1632.1 238.8 L1633.6 234.2 L1635.1 236.8 L1636.7 227.9 L1638.2 235.5 L1639.7 241.9 L1641.2 243.1 L1642.2 252 L1643.2 258.3 L1644.3 249 L1645.8 248.2 L1647.3 243.1 L1648.8 238.8 L1649.8 248.2 L1650.9 257.6 L1652.4 259.6 L1653.4 248.2 L1654.4 239.8 L1655.9 238.8 L1657.4 236.3 L1659 235.5 L1660.5 238.1 L1662 229.2 L1663.5 227.9 L1665.1 220.3 L1666.6 214 L1668.1 212.7 L1669.1 202.6 L1670.1 191.1 L1671.1 180.5 L1672.7 178 L1674.2 178.5 L1675.7 170.9 L1677.2 173.4 L1678.7 167.1 L1680.3 163.8 L1681.8 163.2 L1683.3 167.1 L1684.8 163.2 L1686.4 162.7 L1687.9 164.5 L1688.9 166.3 L1689.9 177.2 L1690.9 191.1 L1692.4 184.8 L1694 181 L1695 179.7 L1696.5 186.1 L1698 191.1 L1699.5 197.5 L1701.1 201.3 L1702.6 205.1 L1704.1 197.5 L1705.6 190.6 L1707.1 184.8 L1708.7 179.7 L1710.2 175.4 L1711.7 174.7 L1712.7 175.4 L1713.7 183.5 L1714.8 189.9 L1716.3 184.8 L1717.8 187.3 L1719.3 186.1 L1720.6 186.6 L1721.9 197.5 L1723.4 194.9 L1724.9 193.7 L1725.9 194.9 L1726.9 206.4 L1727.9 219 L1729.5 226.6 L1730.5 236.8 L1731.5 248.2 L1733 239.3 L1734 241.9 L1735 249 L1736.1 240.6 L1737.1 234.2 L1738.6 229.2 L1740.1 221.6 L1741.6 215.2 L1743.2 212.7 L1744.1 189.6 L1745.1 184.5 L1746.6 183.3 L1748.1 187.1 L1749.1 190.9 L1750.1 187.1 L1751.4 171.9 L1752.7 151.6 L1753.9 131.3 L1755.2 130.8 L1756.7 131.8 L1758.3 130 L1759.8 128.7 L1760.8 127.5 L1762.3 135.1 L1763.3 144 L1764.3 152.8 L1765.9 150.3 L1766.9 140.2 L1767.9 129.3 L1768.9 140.2 L1769.9 150.3 L1770.9 141.4 L1771.9 128.7 L1773.5 127.5 L1775 122.4 L1776 121.1 L1777 127.5 L1778 135.8 L1779.3 126.2 L1780.6 131.3 L1781.6 126.2 L1782.6 117.3 L1783.6 108.5 L1784.6 101.4 L1786.1 98.3 L1787.2 97.1 L1788.2 104.7 L1789.2 112.3 L1790.2 113.5 L1791.7 111 L1793.2 108.5 L1794.8 109 L1795.8 108 L1796.8 88.2 L1797.8 65.4 L1798.8 47.6 L1799.8 46.3 L1801.4 47.6 L1802.4 53.9 L1803.4 60.3 L1804.9 66.6 L1805.9 71.7 L1806.9 83.1 L1808 93.2 L1809 100.9 L1810 111 L1811 122.4 L1812.5 127.5 L1813.5 133.8 L1814.5 140.2 L1815.6 149 L1816.6 155.4 L1817.6 144 L1818.6 133.3 L1819.6 138.9 L1820.6 149 L1821.6 159.2 L1822.7 163 L1823.7 157.9 L1824.7 163 L1825.7 171.9 L1827.2 169.3 L1828.7 164.2 L1829.8 159.2 L1830.8 161.7 L1831.8 165.5 L1832.8 159.2 L1833.8 156.6 L1834.8 165.5 L1835.8 174.4 L1836.9 178.2 L1838 176.5 L1839.6 179 L1840.6 185.4 L1841.6 193 L1842.6 201.9 L1843.6 209.5 L1844.6 203.1 L1845.6 194.2 L1847.2 181.6 L1848.7 170.2 L1849.7 168.4 L1851.2 167.6 L1852.2 163.8 L1853.2 157.5 L1854.3 151.1 L1855.8 147.3 L1856.8 146.1 L1857.8 152.4 L1858.8 158.7 L1859.8 160 L1860.9 157.5 L1862.4 157.5 L1863.9 158.7 L1864.9 162.6 L1865.9 167.6 L1866.9 170.9 L1868 165.1 L1869 156.2 L1870 148.6 L1871 141 L1872 133.4 L1873 132.1 L1874 137.2 L1875.1 139.7 L1876.6 138 L1878.1 136.4 L1879.1 139.7 L1880.1 143.5 L1881.6 142.3 L1882.7 144.8 L1883.7 156.2 L1884.7 165.1 L1885.7 172.7 L1886.7 174 L1887.7 161.3 L1888.7 151.1 L1889.8 142.3 L1890.8 134.7 L1891.8 130.9 L1892.8 129.6 L1894.3 128.8 L1895.3 124.5 L1896.4 113.1 L1897.6 104.2 L1898.9 110.6 L1899.9 119.4 L1900.9 127.1 L1901.9 130.9 L1902.9 120.7 L1904 108 L1905 95.4 L1906 88.3 L1907 90.3 L1908 92.8 L1909 88.3 L1910 91.6 L1911.1 101.7 L1912.1 108 L1913.1 109.3 L1913.9 112.6 L1914.6 116.6" fill="none" stroke="#0f9a83" stroke-width="3.2" stroke-linejoin="round" stroke-linecap="butt"/><!--/LINE-->
<rect x="1924" y="105.9" width="100.8" height="25.5" rx="3" fill="#0f9a83"/>
<path d="M1817 455 H1922 V481.3 H1817 A3 3 0 0 1 1814 478.3 V458 A3 3 0 0 1 1817 455 Z" fill="#808080"/>
<path d="M1923.6 455 H2021.8 A3 3 0 0 1 2024.8 458 V478.3 A3 3 0 0 1 2021.8 481.3 H1923.6 Z" fill="#808080"/>
<g fill="#171717" stroke="none">
<path d="M18.65 572.1 H37 V594.9 H28.2 V580.8 H18.65 Z"/>
<circle cx="44.95" cy="576.55" r="4.65"/>
<path d="M54.3 572.1 H64.9 L55.85 594.9 H45.3 Z"/>
<!-- T -->
<rect x="76.1" y="572" width="16.8" height="4.5"/>
<rect x="82.1" y="572" width="5" height="23.3"/>
<!-- r -->
<rect x="93.3" y="578.4" width="4.7" height="16.9"/>
<!-- a -->
<rect x="116.6" y="578.4" width="4.5" height="16.9"/>
<!-- d -->
<rect x="136.5" y="572" width="4.7" height="23.3"/>
<!-- i -->
<rect x="144.3" y="578.4" width="4.7" height="16.9"/>
<circle cx="146.65" cy="574.1" r="3"/>
<!-- n -->
<rect x="152.1" y="578.4" width="4.7" height="16.9"/>
<!-- g -->
<rect x="183.3" y="578.4" width="4.5" height="17"/>
<!-- V -->
<path d="M187.3 572 H193 L199.2 588.8 L204.9 572 H210.6 L201.9 595.3 H196.4 Z"/>
<!-- i -->
<rect x="212.5" y="578.4" width="4.6" height="16.9"/>
<circle cx="214.8" cy="574.1" r="3"/>
<!-- w -->
<path d="M237.5 578.4 H242.6 L245.8 589.5 L248.6 578.4 H252.4 L255.4 589.5 L258.4 578.4 H263.5 L257.7 595.3 H253.4 L250.5 584.5 L247.7 595.3 H243.5 Z"/>
</g>
<g fill="none" stroke="#171717" stroke-width="4.5">
<path d="M95.65 588 C95.65 582.6 98.3 580.5 102.9 580.5" stroke-width="4.7"/>
<circle cx="112.3" cy="586.8" r="6.6"/>
<circle cx="132.5" cy="586.8" r="6.6"/>
<path d="M154.45 590 V585.5 A5.4 5.4 0 0 1 165.25 585.5 V595.3" stroke-width="4.7"/>
<circle cx="179" cy="586.8" r="6.6"/>
<path d="M185.55 594 V594.6 A6.3 5.6 0 0 1 179.2 600.2 C176 600.2 173.6 598.9 172.3 596.9" stroke-width="4.4"/>
<path d="M234.9 586.8 A6.5 6.5 0 1 0 233.5 590.9" stroke-width="4.4"/>
<path d="M222.5 586.8 H236.9" stroke-width="3.3"/>
</g>
</svg>
<div class="pl" style="top:63px">0.30050</div>
<div class="pl" style="top:161px">0.29950</div>
<div class="pl" style="top:209px">0.29900</div>
<div class="pl" style="top:258px">0.29850</div>
<div class="pl" style="top:306px">0.29800</div>
<div class="pl" style="top:355px">0.29750</div>
<div class="pl" style="top:403px">0.29700</div>
<div class="bt" style="left:1940px;top:108px;font-size:19px;letter-spacing:0.9px">0.30004</div>
<div class="bt" style="left:1823px;top:458px;font-size:18px;letter-spacing:0.55px">Prev close</div>
<div class="bt" style="left:1940px;top:458px;font-size:19px;letter-spacing:0.9px">0.29644</div>
<div class="tl b" style="left:15.5px;margin-left:0;text-align:left;width:auto;transform-origin:0 50%">01:00</div>
<div class="tl b" style="left:247px">03:00</div>
<div class="tl" style="left:420px">04:30</div>
<div class="tl b" style="left:594px">06:00</div>
<div class="tl" style="left:768px">07:30</div>
<div class="tl b" style="left:942px">09:00</div>
<div class="tl" style="left:1116px">10:30</div>
<div class="tl b" style="left:1290px">12:00</div>
<div class="tl" style="left:1464px">13:30</div>
<div class="tl b" style="left:1638px">15:00</div>
<div class="tl b" style="left:1869px">17:00</div>
</body>
</html>
